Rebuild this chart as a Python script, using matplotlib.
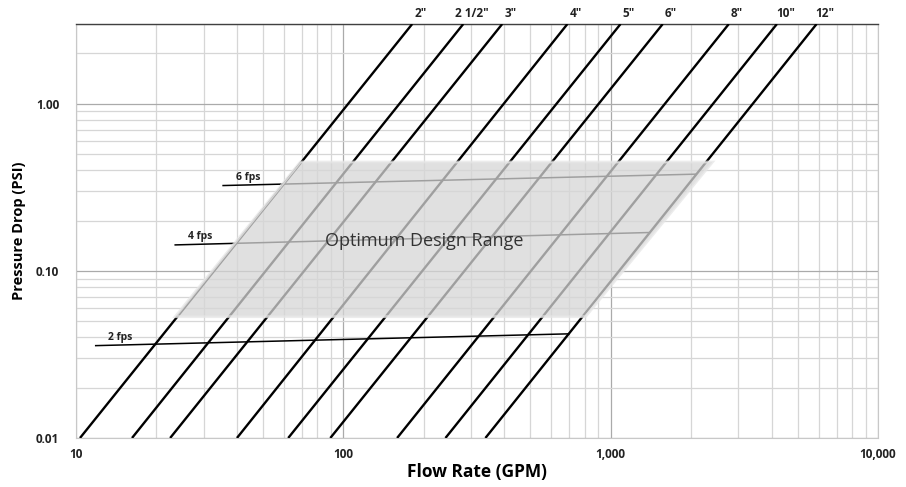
import numpy as np
import matplotlib
matplotlib.use('Agg')
import matplotlib.pyplot as plt
from matplotlib.ticker import LogLocator, FixedLocator, FixedFormatter, NullFormatter

plt.rcParams['font.family'] = ['Open Sans', 'DejaVu Sans']

# pipe sizes: flow (GPM) where each line meets the bottom (0.01 psi) and top (3 psi)
pipe_labels = ['2"', '2 1/2"', '3"', '4"', '5"', '6"', '8"', '10"', '12"']
q_bottom = [10.35, 16.2, 22.5, 40.0, 62.2, 89.4, 158.9, 241, 340]
q_top = [181, 281, 393, 689, 1089, 1566, 2767, 4187, 5893]
p_bottom = 0.01
p_top = 3.0

# optimum design range (parallelogram corners)
range_q = [23.5, 69.0, 2404, 805]
range_p = [0.0532, 0.448, 0.448, 0.0532]
range_label_pos = (200, 0.150)

# velocity lines: (flow, pressure) at left and right ends
fps_labels = ['2 fps', '4 fps', '6 fps']
fps_q = [[11.85, 698], [23.5, 1390], [35.5, 2080]]
fps_p = [[0.0357, 0.0420], [0.143, 0.1696], [0.324, 0.379]]

x_ticks = [10, 100, 1000, 10000]
x_ticklabels = ['10', '100', '1,000', '10,000']
y_ticks = [0.01, 0.1, 1.0]
y_ticklabels = ['0.01', '0.10', '1.00']

fig = plt.figure(figsize=(9.06, 4.87), dpi=100)
ax = fig.add_axes([76 / 906, 1 - 438 / 487, (878 - 76) / 906, (438 - 24) / 487])
ax.set_xscale('log')
ax.set_yscale('log')
ax.set_xlim(10, 10000)
ax.set_ylim(p_bottom, p_top)

ax.xaxis.set_major_locator(FixedLocator(x_ticks))
ax.xaxis.set_major_formatter(FixedFormatter(x_ticklabels))
ax.xaxis.set_minor_locator(LogLocator(base=10, subs=np.arange(2, 10)))
ax.xaxis.set_minor_formatter(NullFormatter())
ax.yaxis.set_major_locator(FixedLocator(y_ticks))
ax.yaxis.set_major_formatter(FixedFormatter(y_ticklabels))
ax.yaxis.set_minor_locator(LogLocator(base=10, subs=np.arange(2, 10)))
ax.yaxis.set_minor_formatter(NullFormatter())

ax.grid(which='major', color='#aaaaaa', lw=0.9)
ax.grid(which='minor', color='#d6d6d6', lw=0.9)
ax.set_axisbelow(True)
ax.tick_params(which='both', length=0)
ax.tick_params(axis='y', pad=12, labelsize=8.5, labelcolor='#222222')
ax.tick_params(axis='x', pad=7, labelsize=8.5, labelcolor='#222222')
for lab in ax.get_xticklabels() + ax.get_yticklabels():
    lab.set_fontweight('bold')

for s in ['left', 'right', 'bottom']:
    ax.spines[s].set_color('#c8c8c8')
ax.spines['top'].set_color('#404040')
ax.spines['top'].set_linewidth(1.0)

# pipe lines
for lab, qb, qt in zip(pipe_labels, q_bottom, q_top):
    ax.plot([qb, qt], [p_bottom, p_top], color='black', lw=1.7, zorder=3,
            solid_capstyle='butt')
    ax.annotate(lab, (qt, p_top), xytext=(6, 3), textcoords='offset points',
                ha='center', va='bottom', fontsize=8.5, fontweight='bold',
                color='#222222', annotation_clip=False)

# velocity lines
for lab, q, p in zip(fps_labels, fps_q, fps_p):
    ax.plot(q, p, color='black', lw=1.1, zorder=3)
    ax.annotate(lab, (q[0], p[0]), xytext=(9, 2), textcoords='offset points',
                ha='left', va='bottom', fontsize=7.5, fontweight='bold',
                color='#222222')

# optimum design range
ax.fill(range_q, range_p, facecolor='#d6d6d6', alpha=0.75, edgecolor='#e6e6e6',
        lw=2, zorder=4)
ax.text(range_label_pos[0], range_label_pos[1], 'Optimum Design Range', ha='center',
        va='center', fontsize=13, color='#333333', zorder=5)

ax.set_xlabel('Flow Rate (GPM)', fontsize=12.5, fontweight='bold')
ax.xaxis.label.set_va('center')
ax.xaxis.set_label_coords(0.5, -(472 - 438) / 414)
ax.set_ylabel('Pressure Drop (PSI)', fontsize=10.5, fontweight='bold')
ax.yaxis.set_label_coords(-(76 - 26) / 802, 0.5)

fig.savefig('out.png', dpi=100)
